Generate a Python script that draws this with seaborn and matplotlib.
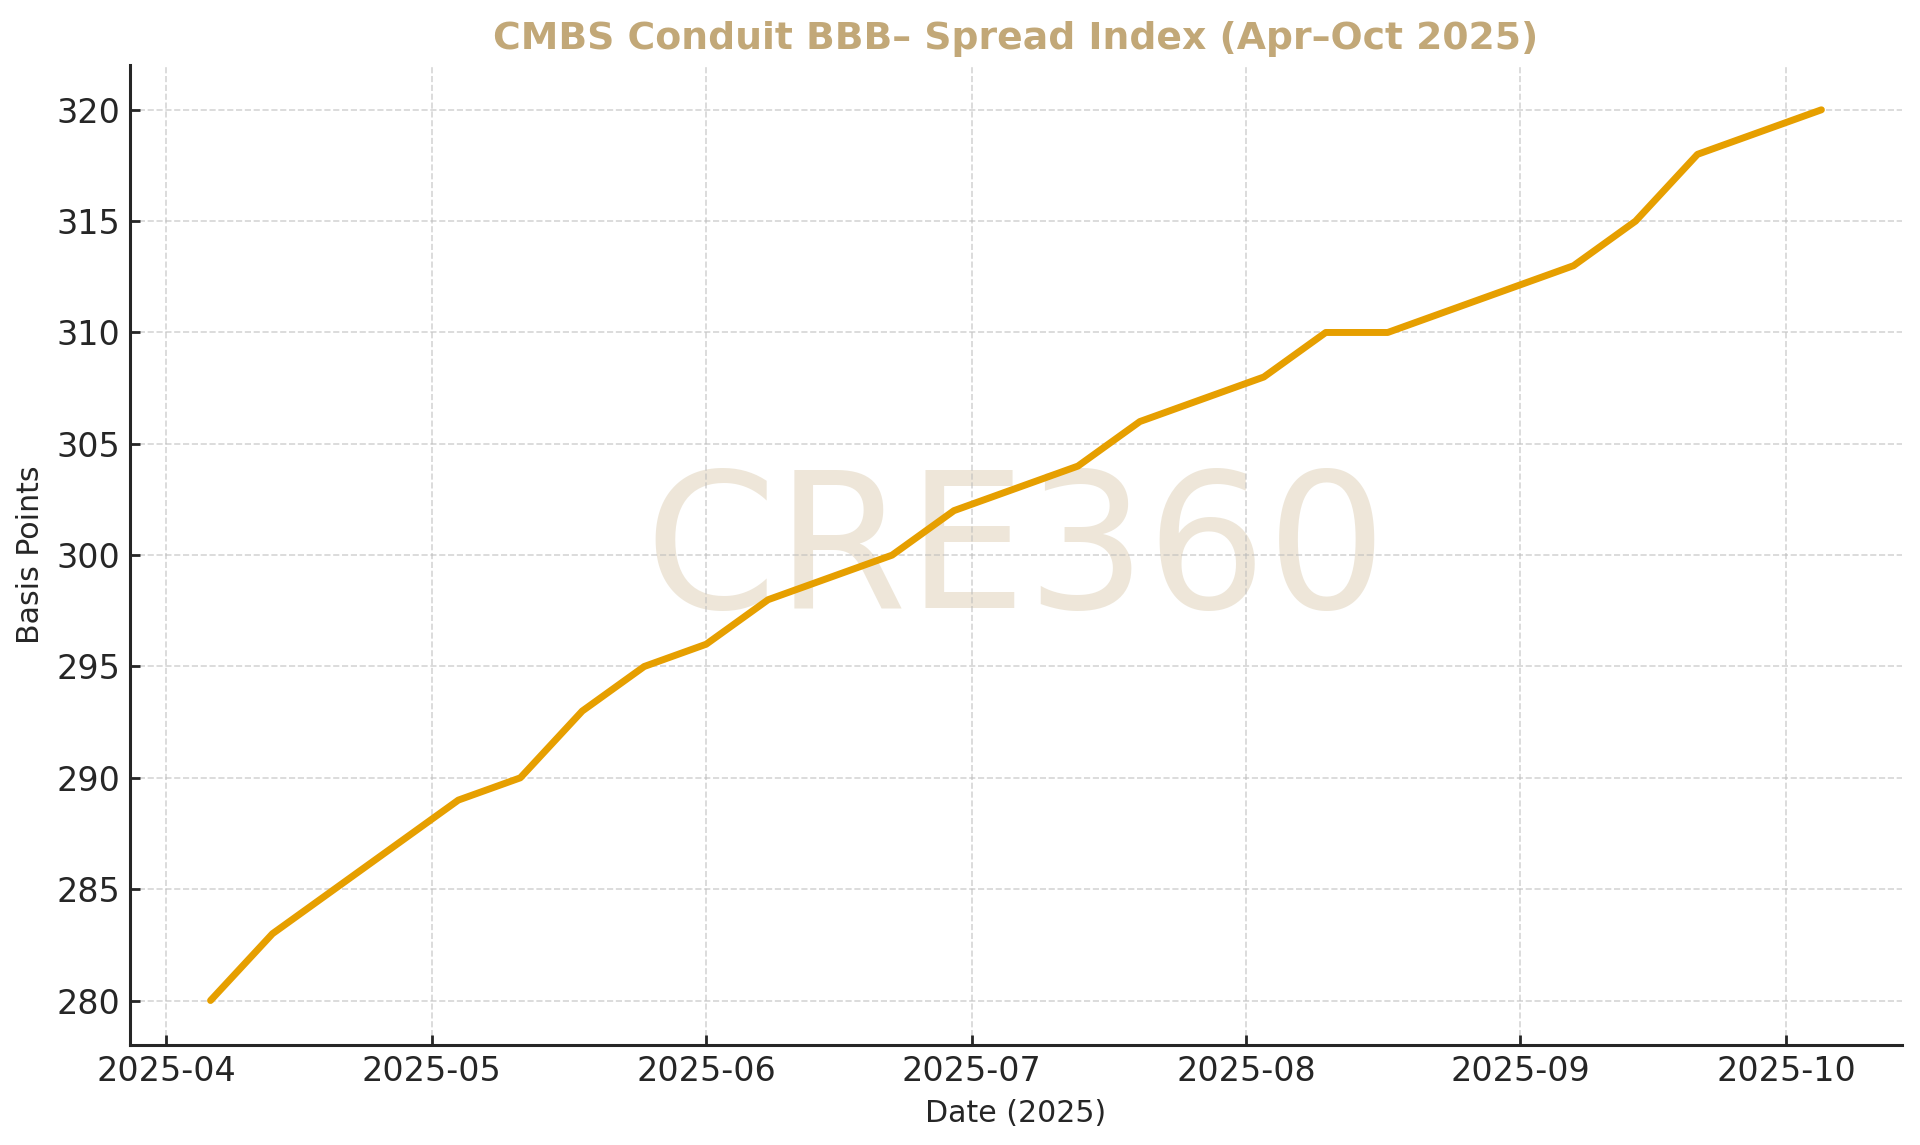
import pandas as pd
import matplotlib.pyplot as plt
import matplotlib.dates as mdates
import seaborn as sns

# Weekly CMBS conduit BBB- spread readings (basis points)
dates = [
    "2025-04-06", "2025-04-13", "2025-04-20", "2025-04-27", "2025-05-04",
    "2025-05-11", "2025-05-18", "2025-05-25", "2025-06-01", "2025-06-08",
    "2025-06-15", "2025-06-22", "2025-06-29", "2025-07-06", "2025-07-13",
    "2025-07-20", "2025-07-27", "2025-08-03", "2025-08-10", "2025-08-17",
    "2025-08-24", "2025-08-31", "2025-09-07", "2025-09-14", "2025-09-21",
    "2025-09-28", "2025-10-05",
]
spread_bp = [
    280, 283, 285, 287, 289,
    290, 293, 295, 296, 298,
    299, 300, 302, 303, 304,
    306, 307, 308, 310, 310,
    311, 312, 313, 315, 318,
    319, 320,
]

title = "CMBS Conduit BBB\u2013 Spread Index (Apr\u2013Oct 2025)"
watermark = "CRE360"
line_color = "#E69F00"
accent = "#C2A878"

df = pd.DataFrame({"date": pd.to_datetime(dates), "spread": spread_bp})

sns.set_theme(style="ticks")
plt.rcParams["font.family"] = ["DejaVu Sans"]

fig, ax = plt.subplots(figsize=(9.6, 5.725), dpi=200)
fig.subplots_adjust(left=0.0677, right=0.9906, top=0.943, bottom=0.0873)

sns.lineplot(data=df, x="date", y="spread", color=line_color, linewidth=2.5, ax=ax)

ax.text(0.5, 0.5, watermark, transform=ax.transAxes, ha="center", va="center",
        fontsize=68, color=accent, alpha=0.28, zorder=0)

ax.set_title(title, fontsize=13.6, fontweight="bold", color=accent, pad=6)
ax.set_xlabel("Date (2025)", fontsize=10.8)
ax.set_ylabel("Basis Points", fontsize=10.8)

ax.xaxis.set_major_locator(mdates.MonthLocator())
ax.xaxis.set_major_formatter(mdates.DateFormatter("%Y-%m"))
ax.tick_params(axis="both", labelsize=12, direction="in", length=3.5, width=1.0)
ax.grid(True, linestyle="--", linewidth=0.6, color="#bbbbbb", alpha=0.6)
sns.despine(ax=ax)
for s in ["left", "bottom"]:
    ax.spines[s].set_linewidth(1.1)
    ax.spines[s].set_color("#262626")

plt.savefig("out.png", dpi=200)
